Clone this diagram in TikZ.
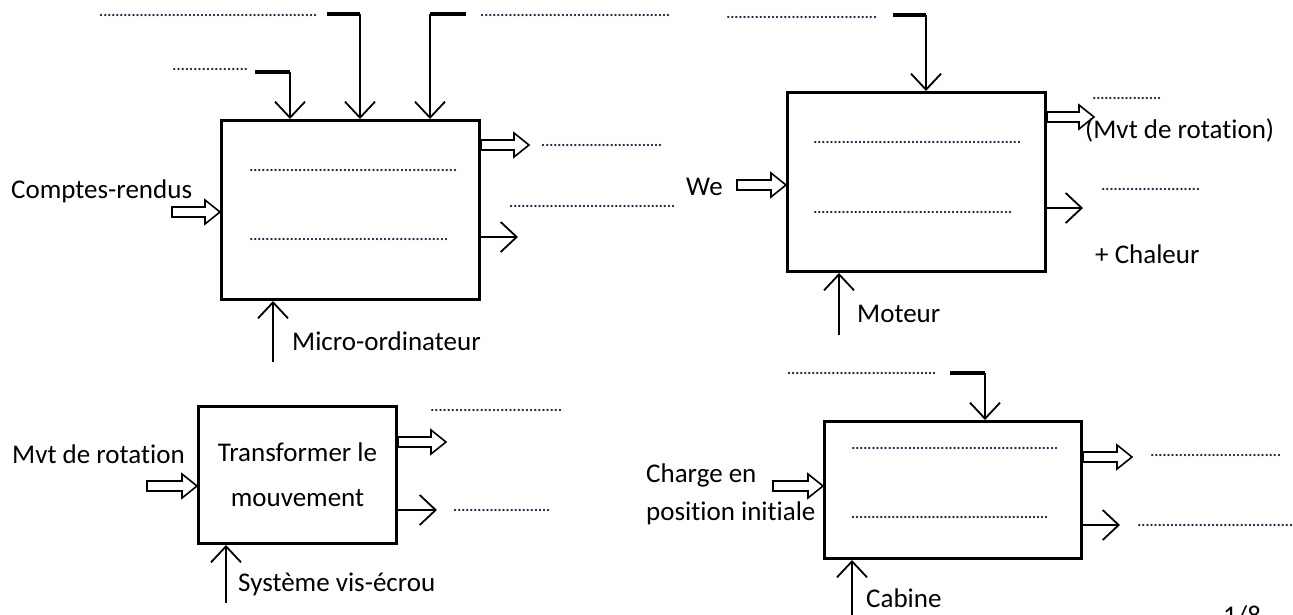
\documentclass[tikz,border=0pt]{standalone}
\usepackage{fontspec}
\setmainfont{Carlito}[Ligatures=NoCommon]
\usetikzlibrary{arrows.meta,calc}
\definecolor{dotc}{RGB}{30,30,70}
\newcommand{\dl}[1]{\hbox to #1pt{\xleaders\hbox{.}\hfill}}
\newcommand{\hollowarr}[2]{%
  \draw[hol] let \p1=(#1), \p2=(#2) in
   (\x1,{\y1+5pt}) -- ({\x2-15pt},{\y1+5pt}) -- ({\x2-15pt},{\y1+12pt}) -- (\x2,\y1)
   -- ({\x2-15pt},{\y1-12pt}) -- ({\x2-15pt},{\y1-5pt}) -- (\x1,{\y1-5pt}) -- cycle;}
\begin{document}
\begin{tikzpicture}[x=1pt,y=-1pt,
  box/.style={draw=black, line width=3pt, fill=white, inner sep=0pt},
  lbl/.style={font=\fontsize{27}{32}\selectfont, inner sep=0pt, anchor=base west, text=black},
  dotsn/.style={font=\fontsize{15}{15}\selectfont\bfseries, inner sep=0pt, anchor=west, text=dotc},
  thinarr/.style={line width=1.8pt, -{Straight Barb[length=16pt,width=30pt]}},
  bar/.style={line width=4pt},
  hol/.style={line width=1.6pt, fill=white, line join=miter}]
\useasboundingbox (0,0) rectangle (1293,614);
\fill[white] (0,0) rectangle (1293,614);

% ---------- boxes ----------
\node[box, minimum width=258pt, minimum height=179pt] (b1) at (350.5,210) {};
\node[box, minimum width=258pt, minimum height=179pt] (b2) at (916.5,182) {};
\node[box, minimum width=198pt, minimum height=137pt, align=center,
      font=\fontsize{27}{45}\selectfont] (b3) at (297.5,475) {Transformer le\\mouvement};
\node[box, minimum width=257pt, minimum height=137pt] (b4) at (953,490) {};

% ---------- box 1 ----------
\node[dotsn] (t1) at (99,15) {\dl{218}};
\node[dotsn] (t2) at (480,15) {\dl{190}};
\node[dotsn] (t3) at (172,69) {\dl{76}};
\coordinate (k1) at (255,72);  \coordinate (k1e) at (290,72);
\coordinate (k2) at (327,14);  \coordinate (k2e) at (360,14);
\coordinate (k3) at (466,14);  \coordinate (k3e) at (430,14);
\draw[thinarr] (k1e) -- (k1e |- b1.north);
\draw[thinarr] (k2e) -- (k2e |- b1.north);
\draw[thinarr] (k3e) -- (k3e |- b1.north);
\draw[bar] (k1) -- (k1e);
\draw[bar] (k2) -- (k2e);
\draw[bar] (k3) -- (k3e);
\node[dotsn] (f1a) at (249,170) {\dl{208}};
\node[dotsn] (f1b) at (249,239) {\dl{199}};
\node[lbl] (c1) at (11,198) {Comptes-rendus};
\coordinate (i1) at (172,212);
\hollowarr{i1}{i1 -| b1.west}
\coordinate (o1h) at (529,145);
\hollowarr{o1h -| b1.east}{o1h}
\coordinate (o1t) at (518,237);
\draw[thinarr] (o1t -| b1.east) -- (o1t);
\node[dotsn] (r1a) at (541,145) {\dl{121}};
\node[dotsn] (r1b) at (509,206) {\dl{166}};
\coordinate (m1) at (273,362);
\draw[thinarr] (m1) -- (m1 |- b1.south);
\node[lbl] (s1) at (292,350) {Micro-ordinateur};

% ---------- box 2 ----------
\node[dotsn] (t4) at (726,17) {\dl{151}};
\coordinate (k4) at (893,15); \coordinate (k4e) at (926,15);
\draw[thinarr] (k4e) -- (k4e |- b2.north);
\draw[bar] (k4) -- (k4e);
\node[dotsn] (f2a) at (813,142) {\dl{208}};
\node[dotsn] (f2b) at (813,212) {\dl{199}};
\node[lbl] (we) at (686,195) {We};
\coordinate (i2) at (737,185);
\hollowarr{i2}{i2 -| b2.west}
\coordinate (o2h) at (1094,117);
\hollowarr{o2h -| b2.east}{o2h}
\coordinate (o2t) at (1083,208);
\draw[thinarr] (o2t -| b2.east) -- (o2t);
\node[dotsn] (r2a) at (1092,98) {\dl{69}};
\node[lbl] (mvt1) at (1085,138) {(Mvt de rotation)};
\node[dotsn] (r2b) at (1101,189) {\dl{99}};
\node[lbl] (ch) at (1095,263) {+ Chaleur};
\coordinate (m2) at (839,335);
\draw[thinarr] (m2) -- (m2 |- b2.south);
\node[lbl] (s2) at (857,322) {Moteur};

% ---------- box 3 ----------
\node[lbl] (mvt2) at (12,463) {Mvt de rotation};
\coordinate (i3) at (147,486);
\hollowarr{i3}{i3 -| b3.west}
\coordinate (o3h) at (446,442);
\hollowarr{o3h -| b3.east}{o3h}
\coordinate (o3t) at (437,510);
\draw[thinarr] (o3t -| b3.east) -- (o3t);
\node[dotsn] (r3a) at (430,410) {\dl{132}};
\node[dotsn] (r3b) at (453,510) {\dl{97}};
\coordinate (m3) at (226,603);
\draw[thinarr] (m3) -- (m3 |- b3.south);
\node[lbl] (s3) at (238,591) {Système vis-écrou};

% ---------- box 4 ----------
\node[dotsn] (t5) at (787,373) {\dl{149}};
\coordinate (k5) at (950,373); \coordinate (k5e) at (985,373);
\draw[thinarr] (k5e) -- (k5e |- b4.north);
\draw[bar] (k5) -- (k5e);
\node[dotsn] (f4a) at (851,448) {\dl{207}};
\node[dotsn] (f4b) at (851,517) {\dl{197}};
\node[lbl, anchor=west, align=left, font=\fontsize{27}{38}\selectfont] (cp) at (646,494) {Charge en\\position initiale};
\coordinate (i4) at (773,486);
\hollowarr{i4}{i4 -| b4.west}
\coordinate (o4h) at (1132,457);
\hollowarr{o4h -| b4.east}{o4h}
\coordinate (o4t) at (1120,525);
\draw[thinarr] (o4t -| b4.east) -- (o4t);
\node[dotsn] (r4a) at (1150,455) {\dl{131}};
\node[dotsn] (r4b) at (1137,525) {\dl{156}};
\coordinate (m4) at (852,620);
\draw[thinarr] (m4) -- (m4 |- b4.south);
\node[lbl] (s4) at (866,607) {Cabine};

\node[lbl] (pg) at (1223,624) {1/8};
\end{tikzpicture}
\end{document}
